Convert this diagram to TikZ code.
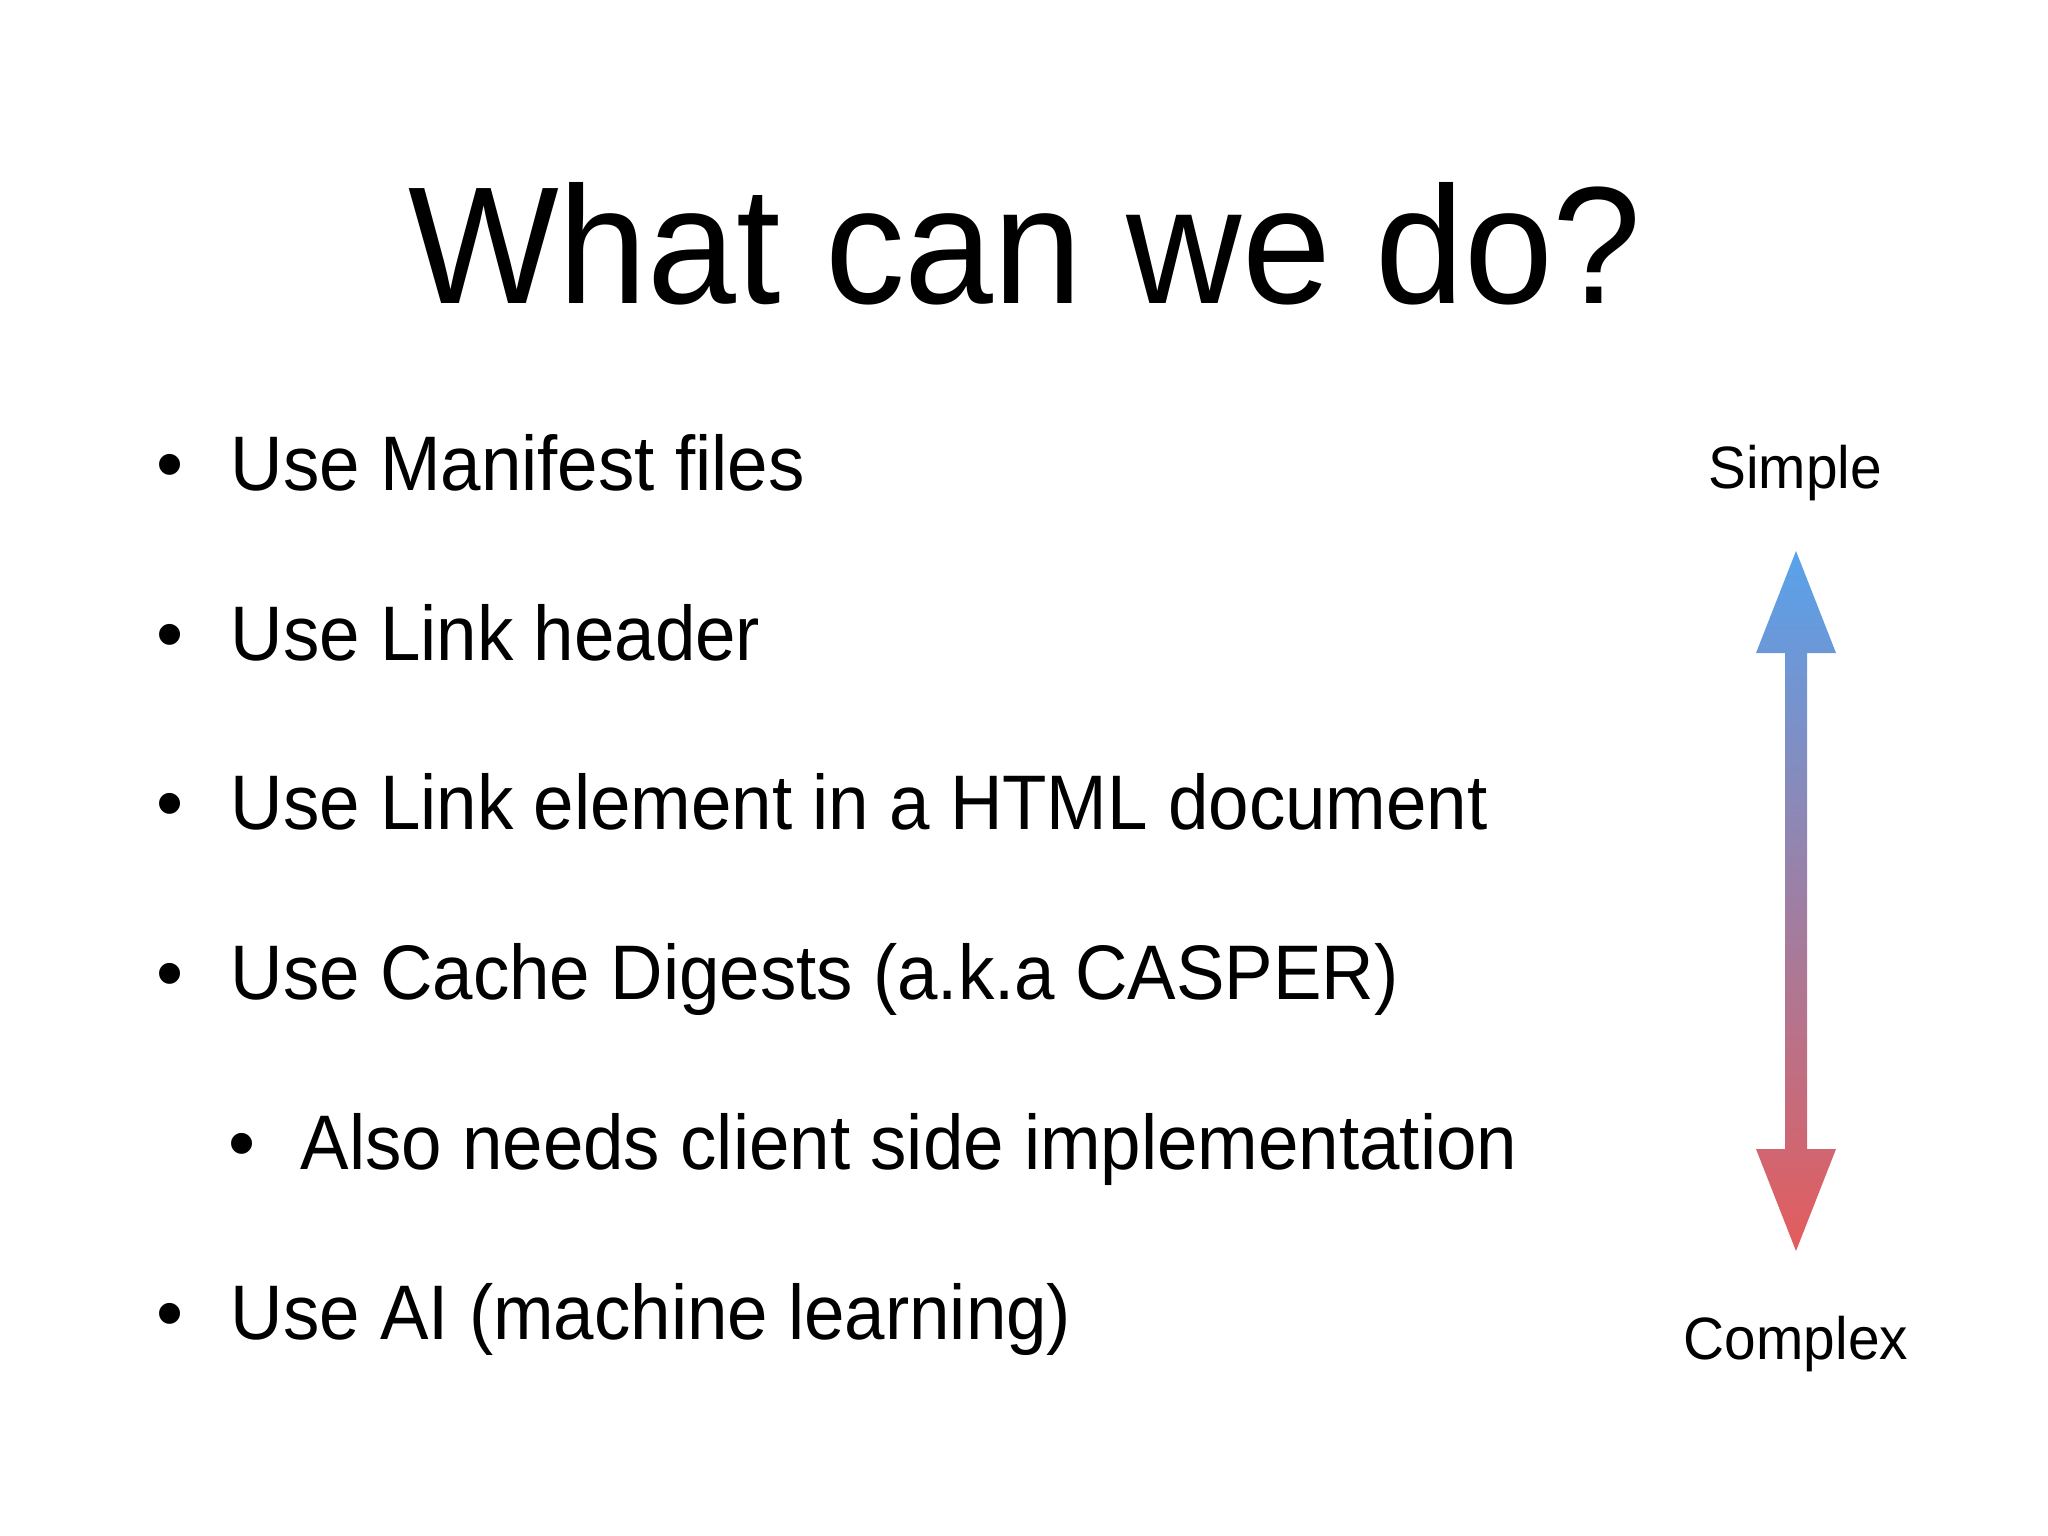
\documentclass[tikz,border=0pt]{standalone}
\usepackage{fontspec}
\setmainfont{Liberation Sans}
\begin{document}
\begin{tikzpicture}[x=0.01cm,y=-0.01cm,
  item/.style={anchor=base west,font=\fontsize{22}{26}\selectfont,inner sep=0pt,xscale=0.94},
  dot/.style={anchor=base,font=\fontsize{22}{26}\selectfont,inner sep=0pt},
  lbl/.style={anchor=base,font=\fontsize{17}{20}\selectfont,inner sep=0pt,xscale=0.95}]
\useasboundingbox (0,0) rectangle (2048,1536);
\node[anchor=base,inner sep=0pt,font=\fontsize{47.5}{56}\selectfont,xscale=0.956] (title) at (1025,303) {What can we do?};
\foreach \t/\y/\n in {Use Manifest files/490/a, Use Link header/660/b, Use Link element in a HTML document/829/c, Use Cache Digests (a.k.a CASPER)/999/d, Use AI (machine learning)/1339/f}{
  \node[dot] (b\n) at (170,\y) {•};
  \node[item] (t\n) at (230,\y) {\t};
}
\node[dot] (be) at (242,1169) {•};
\node[item] (te) at (300,1169) {Also needs client side implementation};
\node[lbl] (simple) at (1795,488) {Simple};
\node[lbl] (complex) at (1796,1359) {Complex};
\shade[top color={rgb,255:red,88;green,162;blue,236}, bottom color={rgb,255:red,228;green,92;blue,92}]
  (1796,551) -- (1836,653) -- (1807,653) -- (1807,1149) -- (1836,1149) -- (1796,1251)
  -- (1756,1149) -- (1785,1149) -- (1785,653) -- (1756,653) -- cycle;
\end{tikzpicture}
\end{document}
